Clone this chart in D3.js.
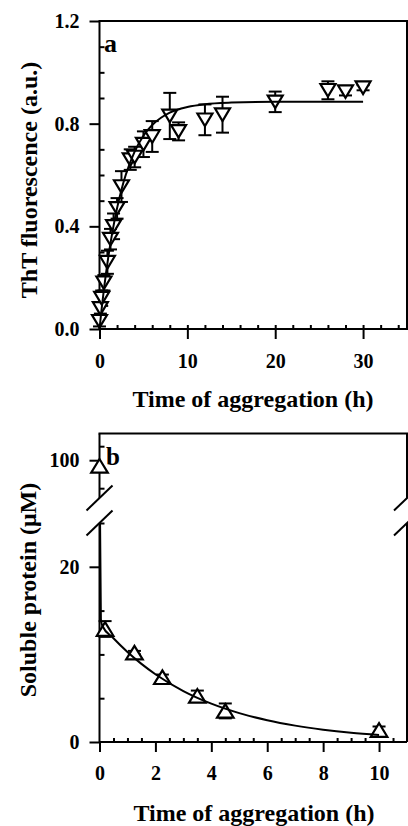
<!DOCTYPE html>
<html>
<head>
<meta charset="utf-8">
<script src="https://cdn.jsdelivr.net/npm/d3@7"></script>
<style>
body { margin: 0; background: #fff; }
svg text { font-family: "Liberation Serif", "Times New Roman", serif; font-weight: bold; fill: #000; }
</style>
</head>
<body>
<svg id="chart" width="408" height="826"></svg>
<script>
// panel a : ThT fluorescence vs time
var tht_time  = [0, 0.1, 0.25, 0.5, 0.9, 1.25, 1.6, 2.0, 2.5, 3.5, 4.0, 5.0, 6.0, 8.0, 9.0, 12.0, 14.0, 20.0, 26.0, 28.0, 30.0];
var tht_value = [0.03, 0.08, 0.12, 0.18, 0.26, 0.35, 0.40, 0.47, 0.555, 0.66, 0.67, 0.72, 0.75, 0.83, 0.77, 0.815, 0.835, 0.885, 0.93, 0.925, 0.94];
var tht_err   = [0.02, 0.02, 0.03, 0.03, 0.045, 0.04, 0.05, 0.04, 0.06, 0.04, 0.04, 0.05, 0.06, 0.09, 0.035, 0.06, 0.07, 0.04, 0.035, 0.015, 0.01];
var tht_fit_time  = [0, 0.25, 0.5, 1, 1.5, 2, 2.5, 3, 4, 5, 6, 7, 8, 10, 12, 15, 20, 25, 30];
var tht_fit_value = [0, 0.080, 0.153, 0.280, 0.384, 0.471, 0.543, 0.602, 0.691, 0.753, 0.795, 0.823, 0.843, 0.865, 0.876, 0.882, 0.885, 0.885, 0.885];
var tht_xticks = [0, 10, 20, 30];
var tht_xminor = d3.range(2, 35, 2);
var tht_yticks = [0, 0.4, 0.8, 1.2];
var tht_yminor = [0.1, 0.2, 0.3, 0.5, 0.6, 0.7, 0.9, 1.0, 1.1];

// panel b : soluble protein vs time
var sol_time  = [0, 0.2, 1.25, 2.25, 3.5, 4.5, 10];
var sol_value = [98, 12.9, 10.2, 7.4, 5.27, 3.55, 1.37];
var sol_err   = [0, 0.9, 0.2, 0.3, 0.6, 0.85, 0.4];
var sol_fit_time  = [0, 0.02, 0.05, 0.1, 0.5, 1, 1.5, 2, 3, 4, 5, 6, 7, 8, 9, 10];
var sol_fit_value = [98, 25.0, 14.0, 13.27, 11.84, 10.28, 8.92, 7.74, 5.82, 4.38, 3.30, 2.48, 1.87, 1.41, 1.06, 0.80];
var sol_xticks = [0, 2, 4, 6, 8, 10];
var sol_xminor = d3.range(0.5, 11, 0.5).filter(d => d % 2 != 0);
var sol_yticks_low = [0, 20];
var sol_yminor_low = [5, 10, 15, 25];
var sol_yticks_high = [100];
var sol_yminor_high = [90, 105];

var svg = d3.select("#chart");

var xa = d3.scaleLinear().domain([0, 35]).range([99.5, 407]);
var ya = d3.scaleLinear().domain([0, 1.2]).range([329, 21]);

var xb = d3.scaleLinear().domain([0, 11]).range([99.5, 407]);
var ybLow = d3.scaleLinear().domain([0, 25]).range([742, 523]);
var ybHigh = d3.scaleLinear().domain([86.5, 109.5]).range([498, 433.6]);

var fmt1 = d3.format(".1f");

function styleAxis(g){
    g.select(".domain").remove();
    g.selectAll("line").attr("stroke", "#000").attr("stroke-width", 2);
    g.selectAll("text").attr("font-size", 20).attr("font-family", null);
}

// ---------- panel a ----------
var pa = svg.append("g");

pa.append("g").attr("transform", "translate(0,329)")
    .call(d3.axisBottom(xa).tickValues(tht_xticks).tickSize(10).tickPadding(15).tickFormat(d3.format("d")))
    .call(styleAxis);
pa.append("g").attr("transform", "translate(0,329)")
    .call(d3.axisBottom(xa).tickValues(tht_xminor).tickSize(-4).tickFormat(""))
    .call(styleAxis);
pa.append("g").attr("transform", "translate(99.5,0)")
    .call(d3.axisLeft(ya).tickValues(tht_yticks).tickSize(10).tickPadding(10).tickFormat(fmt1))
    .call(styleAxis);
pa.append("g").attr("transform", "translate(99.5,0)")
    .call(d3.axisLeft(ya).tickValues(tht_yminor).tickSize(-5).tickFormat(""))
    .call(styleAxis);

pa.append("rect")
    .attr("x", xa(0)).attr("y", ya(1.2))
    .attr("width", xa(35) - xa(0)).attr("height", ya(0) - ya(1.2))
    .attr("fill", "none").attr("stroke", "#000").attr("stroke-width", 2);

var tha = tht_time.map((t, i) => ({t: t, v: tht_value[i], e: tht_err[i]}));

var eb = pa.append("g").attr("stroke", "#000").attr("stroke-width", 2);
tha.forEach(function(d){
    var x = xa(d.t), y0 = ya(d.v - d.e), y1 = ya(d.v + d.e);
    eb.append("line").attr("x1", x).attr("x2", x).attr("y1", y0).attr("y2", y1);
    eb.append("line").attr("x1", x - 6.5).attr("x2", x + 6.5).attr("y1", y0).attr("y2", y0);
    eb.append("line").attr("x1", x - 6.5).attr("x2", x + 6.5).attr("y1", y1).attr("y2", y1);
});

pa.selectAll("path.tri")
    .data(tha)
    .enter().append("path")
    .attr("class", "tri")
    .attr("d", "M-7.5,-6.3L7.5,-6.3L0,6.3Z")
    .attr("transform", d => "translate(" + xa(d.t) + "," + ya(d.v) + ")")
    .attr("fill", "#fff").attr("stroke", "#000").attr("stroke-width", 2.2);

var lineA = d3.line()
    .x((d, i) => xa(tht_fit_time[i]))
    .y(d => ya(d))
    .curve(d3.curveMonotoneX);
pa.append("path")
    .attr("d", lineA(tht_fit_value))
    .attr("fill", "none").attr("stroke", "#000").attr("stroke-width", 2);

pa.append("text").attr("x", 104).attr("y", 52).attr("font-size", 26).text("a");

pa.append("text").attr("x", 253).attr("y", 407).attr("text-anchor", "middle")
    .attr("font-size", 24).text("Time of aggregation (h)");
pa.append("text").attr("transform", "translate(37,180) rotate(-90)")
    .attr("text-anchor", "middle").attr("font-size", 24).text("ThT fluorescence (a.u.)");

// ---------- panel b ----------
var pb = svg.append("g");

pb.append("g").attr("transform", "translate(0,742)")
    .call(d3.axisBottom(xb).tickValues(sol_xticks).tickSize(10).tickPadding(14).tickFormat(d3.format("d")))
    .call(styleAxis);
pb.append("g").attr("transform", "translate(0,742)")
    .call(d3.axisBottom(xb).tickValues(sol_xminor).tickSize(-4).tickFormat(""))
    .call(styleAxis);
pb.append("g").attr("transform", "translate(99.5,0)")
    .call(d3.axisLeft(ybLow).tickValues(sol_yticks_low).tickSize(10).tickPadding(10).tickFormat(d3.format("d")))
    .call(styleAxis);
pb.append("g").attr("transform", "translate(99.5,0)")
    .call(d3.axisLeft(ybLow).tickValues(sol_yminor_low).tickSize(-5).tickFormat(""))
    .call(styleAxis);
pb.append("g").attr("transform", "translate(99.5,0)")
    .call(d3.axisLeft(ybHigh).tickValues(sol_yticks_high).tickSize(10).tickPadding(10).tickFormat(d3.format("d")))
    .call(styleAxis);
pb.append("g").attr("transform", "translate(99.5,0)")
    .call(d3.axisLeft(ybHigh).tickValues(sol_yminor_high).tickSize(-5).tickFormat(""))
    .call(styleAxis);

// frame with broken y axis
var fr = pb.append("g").attr("stroke", "#000").attr("stroke-width", 2).attr("fill", "none");
var xL = xb(0), xR = xb(11);
var yTop = ybHigh.range()[1], yBrkHi = ybHigh.range()[0], yBrkLo = ybLow.range()[1], yBot = ybLow.range()[0];
fr.append("line").attr("x1", xL - 1).attr("x2", xR + 1).attr("y1", yTop).attr("y2", yTop);
fr.append("line").attr("x1", xL).attr("x2", xR).attr("y1", yBot).attr("y2", yBot);
[xL, xR].forEach(function(x){
    fr.append("line").attr("x1", x).attr("x2", x).attr("y1", yTop).attr("y2", yBrkHi);
    fr.append("line").attr("x1", x).attr("x2", x).attr("y1", yBrkLo).attr("y2", yBot);
    [yBrkHi, yBrkLo].forEach(function(y){
        fr.append("line").attr("x1", x - 13).attr("y1", y + 12.5).attr("x2", x + 13).attr("y2", y - 12.5);
    });
});

var ybOf = v => v > 50 ? ybHigh(v) : ybLow(v);
var sol = sol_time.map((t, i) => ({t: t, v: sol_value[i], e: sol_err[i]}));

var ebb = pb.append("g").attr("stroke", "#000").attr("stroke-width", 2);
sol.filter(d => d.e > 0).forEach(function(d){
    var x = xb(d.t), y0 = ybOf(d.v - d.e), y1 = ybOf(d.v + d.e);
    ebb.append("line").attr("x1", x).attr("x2", x).attr("y1", y0).attr("y2", y1);
    ebb.append("line").attr("x1", x - 6.5).attr("x2", x + 6.5).attr("y1", y0).attr("y2", y0);
    ebb.append("line").attr("x1", x - 6.5).attr("x2", x + 6.5).attr("y1", y1).attr("y2", y1);
});

pb.selectAll("path.tri")
    .data(sol)
    .enter().append("path")
    .attr("class", "tri")
    .attr("d", "M-8.3,6.8L8.3,6.8L0,-6.8Z")
    .attr("transform", d => "translate(" + xb(d.t) + "," + ybOf(d.v) + ")")
    .attr("fill", "#fff").attr("stroke", "#000").attr("stroke-width", 2.2);

svg.append("clipPath").attr("id", "clipLow")
    .append("rect").attr("x", 90).attr("y", yBrkLo).attr("width", 320).attr("height", yBot - yBrkLo);

var lineB = d3.line()
    .x((d, i) => xb(sol_fit_time[i]))
    .y(d => ybLow(d))
    .curve(d3.curveMonotoneX);
pb.append("path")
    .attr("d", lineB(sol_fit_value))
    .attr("clip-path", "url(#clipLow)")
    .attr("fill", "none").attr("stroke", "#000").attr("stroke-width", 2);

pb.append("text").attr("x", 106).attr("y", 465).attr("font-size", 25).text("b");

pb.append("text").attr("x", 254).attr("y", 821).attr("text-anchor", "middle")
    .attr("font-size", 24).text("Time of aggregation (h)");
pb.append("text").attr("transform", "translate(36,590) rotate(-90)")
    .attr("text-anchor", "middle").attr("font-size", 24).text("Soluble protein (\u03bcM)");
</script>
</body>
</html>
